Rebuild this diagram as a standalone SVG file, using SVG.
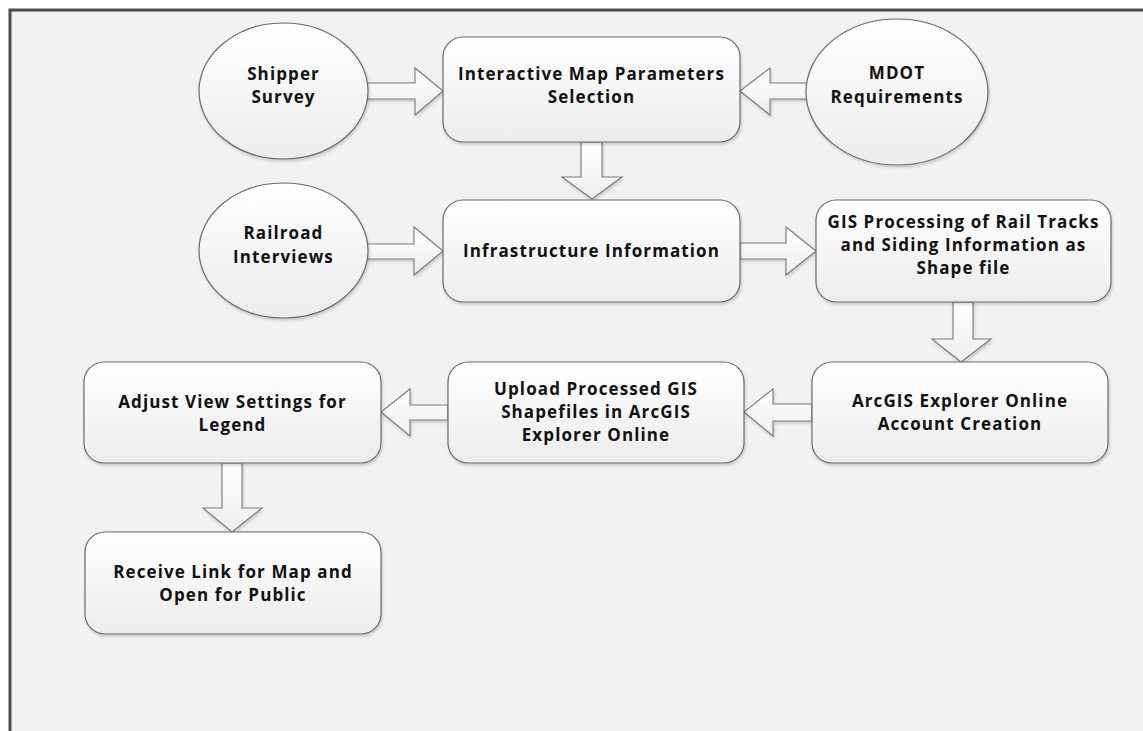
<svg xmlns="http://www.w3.org/2000/svg" width="1143" height="731" viewBox="0 0 1143 731">
<defs>
<linearGradient id="gBox" x1="0" y1="0" x2="0" y2="1">
<stop offset="0" stop-color="#ffffff"/>
<stop offset="1" stop-color="#ececec"/>
</linearGradient>
<linearGradient id="gArr" x1="0" y1="0" x2="0" y2="1">
<stop offset="0" stop-color="#ffffff"/>
<stop offset="1" stop-color="#eeeeee"/>
</linearGradient>
<filter id="sh" x="-10%" y="-10%" width="120%" height="130%">
<feDropShadow dx="1" dy="2" stdDeviation="1.5" flood-color="#000" flood-opacity="0.18"/>
</filter>
</defs>
<style>
.box{fill:url(#gBox);stroke:#6a6a6a;stroke-width:1.2;filter:url(#sh)}
.arr{fill:url(#gArr);stroke:#7a7a7a;stroke-width:1.1;filter:url(#sh)}
.t{font-family:"Open Sans","Liberation Sans",sans-serif;font-weight:bold;font-size:17px;letter-spacing:1.1px;fill:#111111;text-anchor:middle}
</style>
<rect x="0" y="0" width="1143" height="731" fill="#ffffff"/>
<rect x="10" y="10" width="1145" height="735" fill="#f2f2f2" stroke="#4d4d4d" stroke-width="3"/>
<g id="connectors">
<path class="arr" d="M366,83 H415 V68 L443,91 L415,115 V99 H366 Z"/>
<path class="arr" d="M808,83 H770 V68 L740,91 L770,115 V99 H808 Z"/>
<path class="arr" d="M581,142 V177 H562 L592,199 L622,177 H602 V142 Z"/>
<path class="arr" d="M366,244 H414 V227 L443,251 L414,275 V259 H366 Z"/>
<path class="arr" d="M740,243 H786 V227 L816,251 L786,275 V259 H740 Z"/>
<path class="arr" d="M953,302 V339 H932 L961,362 L991,339 H973 V302 Z"/>
<path class="arr" d="M812,404 H773 V389 L744,412 L773,436 V421 H812 Z"/>
<path class="arr" d="M448,405 H410 V389 L381,412 L410,436 V420 H448 Z"/>
<path class="arr" d="M222,463 V508 H203 L232,532 L262,508 H242 V463 Z"/>
</g>
<g id="shipper">
<ellipse class="box" cx="283.5" cy="91" rx="84.5" ry="68"/>
<text class="t" x="283.5" y="80">Shipper</text>
<text class="t" x="283.5" y="103">Survey</text>
</g>
<g id="interactive">
<rect class="box" x="443" y="37" width="297" height="105" rx="20"/>
<text class="t" x="591.5" y="80">Interactive Map Parameters</text>
<text class="t" x="591.5" y="103">Selection</text>
</g>
<g id="mdot">
<ellipse class="box" cx="897" cy="92" rx="91" ry="73"/>
<text class="t" x="897" y="79">MDOT</text>
<text class="t" x="897" y="103">Requirements</text>
</g>
<g id="railroad">
<ellipse class="box" cx="283.5" cy="250.5" rx="84.5" ry="67.5"/>
<text class="t" x="283.5" y="239">Railroad</text>
<text class="t" x="283.5" y="263">Interviews</text>
</g>
<g id="infrastructure">
<rect class="box" x="443" y="200" width="297" height="102" rx="20"/>
<text class="t" x="591.5" y="257">Infrastructure Information</text>
</g>
<g id="gis">
<rect class="box" x="816" y="200" width="295" height="102" rx="20"/>
<text class="t" x="963.5" y="228">GIS Processing of Rail Tracks</text>
<text class="t" x="963.5" y="251">and Siding Information as</text>
<text class="t" x="963.5" y="274">Shape file</text>
</g>
<g id="arcgis">
<rect class="box" x="812" y="362" width="296" height="101" rx="20"/>
<text class="t" x="960" y="407">ArcGIS Explorer Online</text>
<text class="t" x="960" y="430">Account Creation</text>
</g>
<g id="upload">
<rect class="box" x="448" y="362" width="296" height="101" rx="20"/>
<text class="t" x="596" y="395">Upload Processed GIS</text>
<text class="t" x="596" y="418">Shapefiles in ArcGIS</text>
<text class="t" x="596" y="441">Explorer Online</text>
</g>
<g id="adjust">
<rect class="box" x="84" y="362" width="297" height="101" rx="20"/>
<text class="t" x="232.5" y="408">Adjust View Settings for</text>
<text class="t" x="232.5" y="431">Legend</text>
</g>
<g id="receive">
<rect class="box" x="85" y="532" width="296" height="102" rx="20"/>
<text class="t" x="233" y="578">Receive Link for Map and</text>
<text class="t" x="233" y="601">Open for Public</text>
</g>
</svg>
